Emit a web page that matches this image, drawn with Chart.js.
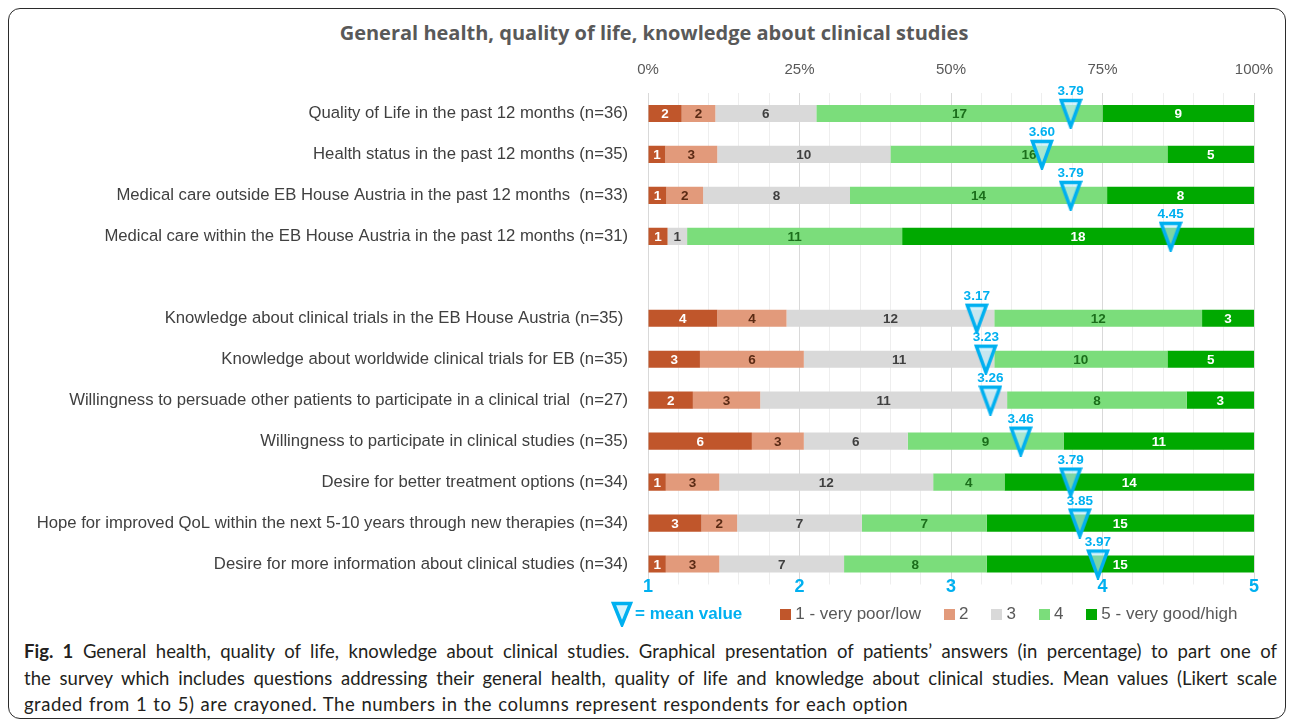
<!DOCTYPE html>
<html lang="en">

<head>
    <meta charset="UTF-8">
    <title>General health, quality of life, knowledge about clinical studies</title>
    <script src="https://cdn.jsdelivr.net/npm/chart.js"></script>
    <style>
        body {
            margin: 0;
            background: #fff;
            width: 1295px;
            height: 724px;
            position: relative;
            overflow: hidden;
            font-family: 'Liberation Sans', sans-serif;
        }

        .moldura {
            position: absolute;
            left: 8px;
            top: 8px;
            width: 1276px;
            height: 709px;
            border: 1.5px solid #2b2b2b;
            border-radius: 12px;
        }

        .titulo {
            position: absolute;
            left: 0;
            width: 1308px;
            top: 19px;
            text-align: center;
            font-family: 'Open Sans', sans-serif;
            font-weight: 700;
            font-size: 20px;
            color: #595959;
        }

        .grafico {
            position: absolute;
            left: 0;
            top: 50px;
        }

        .legenda {
            position: absolute;
            left: 611px;
            top: 601px;
            display: flex;
            align-items: center;
            font-size: 17px;
            color: #595959;
        }

        .legenda .media {
            display: flex;
            align-items: center;
            color: #00B0F0;
            font-weight: 700;
            margin-right: 38px;
        }

        .legenda .media span {
            margin-left: 2px;
        }

        .legenda .item {
            display: flex;
            align-items: center;
            margin-right: 23px;
        }

        .legenda .quadrado {
            width: 11px;
            height: 11px;
            margin-right: 4px;
        }

        .legenda_texto {
            position: absolute;
            left: 24px;
            width: 1253px;
            top: 638px;
            font-family: Lato, sans-serif;
            font-size: 18.5px;
            line-height: 26.5px;
            color: #231f20;
        }

        .legenda_texto div {
            white-space: nowrap;
            text-align: justify;
            text-align-last: justify;
        }

        .legenda_texto div.ultima {
            text-align-last: left;
            letter-spacing: 0.5px;
            word-spacing: 1px;
        }
    </style>
</head>

<body>
    <div class="moldura"></div>
    <div class="titulo">General health, quality of life, knowledge about clinical studies</div>
    <div class="grafico">
        <canvas id="myChart" width="1295" height="560"></canvas>
    </div>
    <div class="legenda" id="legenda"></div>
    <div class="legenda_texto">
        <div><b>Fig. 1</b> General health, quality of life, knowledge about clinical studies. Graphical presentation of patients’ answers (in percentage) to part one of</div>
        <div>the survey which includes questions addressing their general health, quality of life and knowledge about clinical studies. Mean values (Likert scale</div>
        <div class="ultima">graded from 1 to 5) are crayoned. The numbers in the columns represent respondents for each option</div>
    </div>
</body>

</html>
<script>
    // perguntas (linha vazia separa os dois blocos)
    const perguntas = [
        'Quality of Life in the past 12 months (n=36)',
        'Health status in the past 12 months (n=35)',
        'Medical care outside EB House Austria in the past 12 months  (n=33)',
        'Medical care within the EB House Austria in the past 12 months (n=31)',
        '',
        'Knowledge about clinical trials in the EB House Austria (n=35) ',
        'Knowledge about worldwide clinical trials for EB (n=35)',
        'Willingness to persuade other patients to participate in a clinical trial  (n=27)',
        'Willingness to participate in clinical studies (n=35)',
        'Desire for better treatment options (n=34)',
        'Hope for improved QoL within the next 5-10 years through new therapies (n=34)',
        'Desire for more information about clinical studies (n=34)'
    ];

    // respondentes por opcao
    const nivel1 = [2, 1, 1, 1, null, 4, 3, 2, 6, 1, 3, 1];
    const nivel2 = [2, 3, 2, 0, null, 4, 6, 3, 3, 3, 2, 3];
    const nivel3 = [6, 10, 8, 1, null, 12, 11, 11, 6, 12, 7, 7];
    const nivel4 = [17, 16, 14, 11, null, 12, 10, 8, 9, 4, 7, 8];
    const nivel5 = [9, 5, 8, 18, null, 3, 5, 3, 11, 14, 15, 15];

    // media (escala Likert 1 a 5)
    const medias = [3.79, 3.60, 3.79, 4.45, null, 3.17, 3.23, 3.26, 3.46, 3.79, 3.85, 3.97];

    const rotulosNivel = ['1 - very poor/low', '2', '3', '4', '5 - very good/high'];
    const ticksPercent = [0, 25, 50, 75, 100];
    const ticksLikert = [1, 2, 3, 4, 5];

    const cores = ['#C0562B', '#E29A7B', '#D9D9D9', '#7BDD7B', '#00A900'];
    const coresTexto = ['#ffffff', '#5a2a14', '#404040', '#1b6e1b', '#ffffff'];
    const azul = '#00B0F0';
    const fonte = "'Liberation Sans', sans-serif";

    const niveis = [nivel1, nivel2, nivel3, nivel4, nivel5];
    const totais = perguntas.map((p, i) => niveis.reduce((s, n) => s + (n[i] || 0), 0));

    // triangulo da media
    const triangulo = document.createElement('canvas');
    triangulo.width = 24;
    triangulo.height = 31;
    var t = triangulo.getContext('2d');
    t.beginPath();
    t.moveTo(2.5, 2.5);
    t.lineTo(21.5, 2.5);
    t.lineTo(12, 28.5);
    t.closePath();
    t.fillStyle = 'rgba(190, 236, 250, 0.65)';
    t.fill();
    t.lineWidth = 3.5;
    t.strokeStyle = azul;
    t.stroke();

    const datasets = niveis.map((n, k) => ({
        label: rotulosNivel[k],
        data: n.map((v, i) => v == null ? null : v / totais[i] * 100),
        contagem: n,
        backgroundColor: cores[k],
        corTexto: coresTexto[k],
        xAxisID: 'x',
        order: 1,
        barPercentage: 0.42,
        categoryPercentage: 1
    }));

    datasets.push({
        type: 'scatter',
        label: 'mean value',
        data: medias.map((m, i) => m == null ? null : { x: m, y: perguntas[i] }).filter(p => p),
        xAxisID: 'xMean',
        yAxisID: 'y',
        pointStyle: triangulo,
        pointRadius: 12,
        order: 0
    });

    // numeros dentro das barras, valor da media e eixo 1-5
    const numerosPlugin = {
        id: 'numeros',
        afterDatasetDraw(chart, args) {
            const ds = chart.data.datasets[args.index];
            if (!ds.contagem) return;
            const ctx = chart.ctx;
            ctx.save();
            ctx.font = "bold 13.5px " + fonte;
            ctx.fillStyle = ds.corTexto;
            ctx.textAlign = 'center';
            ctx.textBaseline = 'middle';
            args.meta.data.forEach((bar, i) => {
                const c = ds.contagem[i];
                if (!c) return;
                ctx.fillText(c, (bar.x + bar.base) / 2, bar.y + 1);
            });
            ctx.restore();
        },
        afterDatasetsDraw(chart) {
            const idx = chart.data.datasets.length - 1;
            const meta = chart.getDatasetMeta(idx);
            const ctx = chart.ctx;
            ctx.save();
            ctx.font = "bold 13.5px " + fonte;
            ctx.fillStyle = azul;
            ctx.textAlign = 'center';
            ctx.textBaseline = 'middle';
            meta.data.forEach((p, i) => {
                const v = chart.data.datasets[idx].data[i].x;
                ctx.fillText(v.toFixed(2), p.x, p.y - 22);
            });
            // rotulos do eixo da media
            const s = chart.scales.xMean;
            ctx.font = "bold 18px " + fonte;
            ticksLikert.forEach((v) => {
                ctx.fillText(v, s.getPixelForValue(v), s.top + 3);
            });
            ctx.restore();
        }
    };

    const myChart = new Chart(document.getElementById('myChart'), {
        type: 'bar',
        data: {
            labels: perguntas,
            datasets: datasets
        },
        options: {
            indexAxis: 'y',
            responsive: false,
            animation: false,
            events: [],
            layout: {
                padding: { left: 0, right: 41, top: 0, bottom: 0 }
            },
            plugins: {
                legend: { display: false },
                tooltip: { enabled: false }
            },
            scales: {
                x: {
                    type: 'linear',
                    position: 'top',
                    stacked: true,
                    min: 0,
                    max: 100,
                    afterFit: (s) => { s.height = 43; },
                    afterBuildTicks: (s) => {
                        s.ticks = [];
                        for (let v = 0; v <= 100; v += 5) s.ticks.push({ value: v });
                    },
                    ticks: {
                        color: '#595959',
                        padding: 14,
                        autoSkip: false,
                        maxRotation: 0,
                        minRotation: 0,
                        font: { family: fonte, size: 15 },
                        callback: (v) => ticksPercent.includes(v) ? v + '%' : ''
                    },
                    grid: {
                        drawTicks: false,
                        color: (c) => ticksPercent.includes(c.tick.value) ? '#D9D9D9' : '#EEEEEE',
                        lineWidth: 1
                    },
                    border: { display: false }
                },
                xMean: {
                    axis: 'x',
                    type: 'linear',
                    position: 'bottom',
                    min: 1,
                    max: 5,
                    afterFit: (s) => { s.height = 25.5; },
                    ticks: { display: false },
                    grid: { display: false, drawTicks: false },
                    border: { display: false }
                },
                y: {
                    stacked: true,
                    afterFit: (s) => { s.width = 648; },
                    ticks: {
                        color: '#404040',
                        padding: 12,
                        autoSkip: false,
                        font: { family: fonte, size: 16.7 }
                    },
                    grid: { display: false },
                    border: { display: false }
                }
            }
        },
        plugins: [numerosPlugin]
    });

    // legenda
    var legenda = document.getElementById('legenda');
    var html = '<div class="media"><svg width="22" height="26"><path d="M2.5 2.5 L19.5 2.5 L11 23.5 Z" fill="rgba(190,236,250,0.65)" stroke="' + azul + '" stroke-width="3.5"/></svg><span>= mean value</span></div>';
    rotulosNivel.forEach((r, k) => {
        html += '<div class="item"><div class="quadrado" style="background:' + cores[k] + '"></div>' + r + '</div>';
    });
    legenda.innerHTML = html;
</script>
